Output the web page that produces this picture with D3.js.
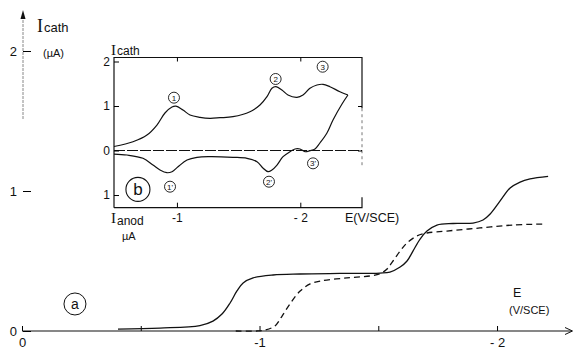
<!DOCTYPE html>
<html>
<head>
<meta charset="utf-8">
<script src="https://cdn.jsdelivr.net/npm/d3@7"></script>
<style>
body { margin: 0; background: #fff; }
text { font-family: "Liberation Sans", Arial, sans-serif; fill: #111; }
.serif { font-family: "Liberation Serif", serif; }
</style>
</head>
<body>
<div id="chart"></div>
<script>
// ---- data (E in V/SCE, I in µA) ----

// curve a, solid polarogram
var solidE = [-0.404, -0.581, -0.749, -0.804, -0.842, -0.876, -0.905, -0.931, -0.973, -1.057, -1.171, -1.339, -1.507, -1.549, -1.592, -1.621, -1.646, -1.676, -1.705, -1.747, -1.815, -1.899, -1.941, -1.971, -2.013, -2.055, -2.097, -2.139, -2.215];
var solidI = [0.014, 0.021, 0.039, 0.071, 0.121, 0.2, 0.286, 0.343, 0.379, 0.4, 0.407, 0.411, 0.414, 0.421, 0.457, 0.5, 0.571, 0.657, 0.714, 0.757, 0.768, 0.771, 0.793, 0.836, 0.929, 1.021, 1.064, 1.086, 1.104];

// curve a, dashed polarogram
var dashedE = [-0.90, -0.989, -1.023, -1.065, -1.095, -1.128, -1.171, -1.213, -1.255, -1.368, -1.465, -1.507, -1.537, -1.562, -1.592, -1.621, -1.663, -1.705, -1.789, -1.928, -2.067, -2.194];
var dashedI = [0, 0, 0.007, 0.036, 0.107, 0.193, 0.286, 0.336, 0.357, 0.379, 0.393, 0.409, 0.443, 0.5, 0.571, 0.629, 0.679, 0.7, 0.714, 0.736, 0.757, 0.764];

// inset b, cyclic voltammogram (cathodic > 0, anodic < 0)
var cvForwardE = [-0.490, -0.644, -0.757, -0.838, -0.903, -0.960, -0.992, -1.049, -1.106, -1.187, -1.268, -1.349, -1.454, -1.592, -1.673, -1.730, -1.770, -1.803, -1.851, -1.900, -1.973, -2.022, -2.078, -2.135, -2.184, -2.240, -2.321, -2.386];
var cvForwardI = [0.090, 0.198, 0.348, 0.573, 0.843, 0.978, 0.996, 0.910, 0.798, 0.746, 0.724, 0.737, 0.760, 0.872, 1.022, 1.209, 1.398, 1.434, 1.360, 1.247, 1.196, 1.247, 1.398, 1.472, 1.488, 1.434, 1.321, 1.247];
var cvReverseE = [-2.386, -2.338, -2.265, -2.216, -2.159, -2.119, -2.078, -2.038, -1.997, -1.957, -1.916, -1.860, -1.811, -1.770, -1.738, -1.697, -1.649, -1.568, -1.454, -1.268, -1.163, -1.082, -1.009, -0.960, -0.919, -0.863, -0.806, -0.725, -0.595, -0.490];
var cvReverseI = [1.247, 1.045, 0.685, 0.393, 0.169, 0.034, -0.004, -0.027, 0.034, 0.034, -0.027, -0.139, -0.326, -0.438, -0.476, -0.393, -0.252, -0.175, -0.153, -0.139, -0.153, -0.213, -0.364, -0.476, -0.499, -0.438, -0.326, -0.175, -0.101, -0.079];

// peak markers in the inset
var peakNames = ["1", "2", "3", "1'", "2'", "3'"];
var peakE = [-0.976, -1.800, -2.181, -0.944, -1.746, -2.103];
var peakI = [1.187, 1.607, 1.883, -0.813, -0.701, -0.288];

// ticks
var mainXTicks = [0, -0.5, -1, -1.5, -2];
var mainXLabels = ["0", "", "-1", "", "- 2"];
var mainYTicks = [0, 1, 2];
var insetXTicks = [-1, -2];
var insetXLabels = ["-1", "- 2"];
var insetYTicks = [2, 1, 0, -1];

function zip(a, b) {
    return a.map(function(v, i) { return [v, b[i]]; });
}

var svg = d3.select("#chart")
    .append("svg")
    .attr("width", 574)
    .attr("height", 350);

// ---------- main chart (a) ----------
var x = d3.scaleLinear().domain([0, -2.3]).range([22, 568.3]);
var y = d3.scaleLinear().domain([0, 2]).range([331, 51]);

// x axis
var xAxis = svg.append("g")
    .attr("transform", "translate(0," + y(0) + ")")
    .call(d3.axisBottom(x)
        .tickValues(mainXTicks)
        .tickSize(-5)
        .tickPadding(7)
        .tickFormat(function(d, i) { return mainXLabels[i]; }));
xAxis.select(".domain").remove();
xAxis.selectAll("text").style("font-size", "13px").style("font-family", "Liberation Sans, Arial");
svg.append("line")
    .attr("x1", x(0)).attr("x2", 572)
    .attr("y1", y(0)).attr("y2", y(0))
    .attr("stroke", "#111").attr("stroke-width", 1.1);
svg.append("path")
    .attr("d", "M565,327.5 L572.5," + y(0) + " L565,334.5")
    .attr("fill", "none").attr("stroke", "#111").attr("stroke-width", 1);

// y axis (only the upper part printed)
var yAxis = svg.append("g")
    .attr("transform", "translate(23,0)")
    .call(d3.axisLeft(y)
        .tickValues(mainYTicks)
        .tickSize(-8)
        .tickPadding(6)
        .tickFormat(d3.format("d")));
yAxis.select(".domain").remove();
yAxis.selectAll("text").style("font-size", "13px").style("font-family", "Liberation Sans, Arial");
svg.append("line")
    .attr("x1", 23).attr("x2", 23)
    .attr("y1", 16).attr("y2", 120)
    .attr("stroke", "#888").attr("stroke-width", 1)
    .attr("stroke-dasharray", "3,1");
svg.append("path")
    .attr("d", "M20.5,19 L23,10 L25.5,19 Z")
    .attr("fill", "#111");

// axis titles
var yTitle = svg.append("text").attr("x", 37).attr("y", 32);
yTitle.append("tspan").attr("class", "serif").style("font-size", "18px").text("I");
yTitle.append("tspan").attr("dx", 1).style("font-size", "13px").text("cath");
svg.append("text").attr("x", 43).attr("y", 57).style("font-size", "11px").text("(µA)");

svg.append("text").attr("x", 513).attr("y", 297).style("font-size", "12.5px").text("E");
svg.append("text").attr("x", 509).attr("y", 314).style("font-size", "11px").text("(V/SCE)");

// curves
var mainLine = d3.line()
    .x(function(d) { return x(d[0]); })
    .y(function(d) { return y(d[1]); })
    .curve(d3.curveCatmullRom.alpha(0.5));

svg.append("path")
    .datum(zip(solidE, solidI))
    .attr("d", mainLine)
    .attr("fill", "none")
    .attr("stroke", "#111")
    .attr("stroke-width", 1.3);

svg.append("path")
    .datum(zip(dashedE, dashedI))
    .attr("d", mainLine)
    .attr("fill", "none")
    .attr("stroke", "#111")
    .attr("stroke-width", 1.3)
    .attr("stroke-dasharray", "6,4");

// label a
svg.append("circle").attr("cx", x(-0.223)).attr("cy", y(0.193)).attr("r", 11)
    .attr("fill", "none").attr("stroke", "#111").attr("stroke-width", 1);
svg.append("text").attr("x", x(-0.223)).attr("y", y(0.193) + 5)
    .attr("text-anchor", "middle").style("font-size", "14px").text("a");

// ---------- inset (b) ----------
var xi = d3.scaleLinear().domain([-0.49, -2.5]).range([114, 362]);
var yi = d3.scaleLinear().domain([-1.285, 2.09]).range([207.7, 57.5]);

// frame
svg.append("path")
    .attr("d", "M" + xi(-0.49) + "," + yi(-1.285) + " V" + yi(2.09) + " H" + xi(-2.5) + " V" + yi(0.95))
    .attr("fill", "none").attr("stroke", "#111").attr("stroke-width", 1.2);
svg.append("path")
    .attr("d", "M" + xi(-0.49) + "," + yi(-1.285) + " H" + xi(-2.5) + " V" + yi(-1.05))
    .attr("fill", "none").attr("stroke", "#111").attr("stroke-width", 1.2);
svg.append("line")
    .attr("x1", xi(-2.5)).attr("x2", xi(-2.5))
    .attr("y1", yi(0.95)).attr("y2", yi(-0.33))
    .attr("stroke", "#777").attr("stroke-width", 1)
    .attr("stroke-dasharray", "3,3");

// zero line
svg.append("line")
    .attr("x1", xi(-0.49)).attr("x2", xi(-2.5))
    .attr("y1", yi(0)).attr("y2", yi(0))
    .attr("stroke", "#111").attr("stroke-width", 1.1)
    .attr("stroke-dasharray", "11,2");

// inset axes
var iLeft = svg.append("g")
    .attr("transform", "translate(" + xi(-0.49) + ",0)")
    .call(d3.axisLeft(yi)
        .tickValues(insetYTicks)
        .tickSize(-5)
        .tickPadding(4)
        .tickFormat(function(d) { return Math.abs(d); }));
iLeft.select(".domain").remove();
iLeft.selectAll("text").style("font-size", "12px").style("font-family", "Liberation Sans, Arial");

var iTop = svg.append("g")
    .attr("transform", "translate(0," + yi(2.09) + ")")
    .call(d3.axisTop(xi).tickValues(insetXTicks).tickSize(-4).tickFormat(""));
iTop.select(".domain").remove();

var iBottom = svg.append("g")
    .attr("transform", "translate(0," + yi(-1.285) + ")")
    .call(d3.axisBottom(xi)
        .tickValues(insetXTicks)
        .tickSize(-5)
        .tickPadding(6)
        .tickFormat(function(d, i) { return insetXLabels[i]; }));
iBottom.select(".domain").remove();
iBottom.selectAll("text").style("font-size", "12px").style("font-family", "Liberation Sans, Arial");

var iRight = svg.append("g")
    .attr("transform", "translate(" + xi(-2.5) + ",0)")
    .call(d3.axisRight(yi).tickValues([1, 0]).tickSize(-4).tickFormat(""));
iRight.select(".domain").remove();

// inset titles
var iTitle = svg.append("text").attr("x", 111).attr("y", 55);
iTitle.append("tspan").attr("class", "serif").style("font-size", "15px").text("I");
iTitle.append("tspan").attr("dx", 1).style("font-size", "12px").text("cath");

var aTitle = svg.append("text").attr("x", 111).attr("y", 223);
aTitle.append("tspan").attr("class", "serif").style("font-size", "15px").text("I");
aTitle.append("tspan").attr("dx", 1).attr("dy", 2).style("font-size", "12px").text("anod");
svg.append("text").attr("x", 122).attr("y", 240).style("font-size", "11px").text("µA");

svg.append("text").attr("x", 345).attr("y", 222).style("font-size", "12.5px").text("E(V/SCE)");

// inset curves
var insetLine = d3.line()
    .x(function(d) { return xi(d[0]); })
    .y(function(d) { return yi(d[1]); })
    .curve(d3.curveCatmullRom.alpha(0.5));

svg.append("path")
    .datum(zip(cvForwardE, cvForwardI))
    .attr("d", insetLine)
    .attr("fill", "none").attr("stroke", "#111").attr("stroke-width", 1.2);

svg.append("path")
    .datum(zip(cvReverseE, cvReverseI))
    .attr("d", insetLine)
    .attr("fill", "none").attr("stroke", "#111").attr("stroke-width", 1.2);

// circled peak numbers
var peaks = svg.append("g").selectAll("g")
    .data(peakNames)
    .enter()
    .append("g")
    .attr("transform", function(d, i) {
        return "translate(" + xi(peakE[i]) + "," + yi(peakI[i]) + ")";
    });
peaks.append("circle")
    .attr("r", 5.5)
    .attr("fill", "#fff").attr("stroke", "#111").attr("stroke-width", 0.9);
peaks.append("text")
    .attr("y", 3)
    .attr("text-anchor", "middle")
    .style("font-size", "8px")
    .text(function(d) { return d; });

// label b
svg.append("circle").attr("cx", xi(-0.684)).attr("cy", yi(-0.874)).attr("r", 12)
    .attr("fill", "none").attr("stroke", "#111").attr("stroke-width", 1.1);
svg.append("text").attr("x", xi(-0.684)).attr("y", yi(-0.874) + 6)
    .attr("text-anchor", "middle").style("font-size", "17px").text("b");
</script>
</body>
</html>
